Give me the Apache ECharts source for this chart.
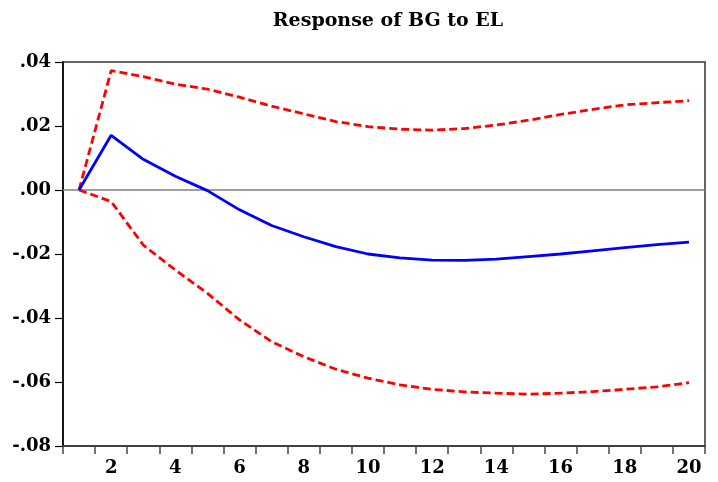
<!DOCTYPE html>
<html>
<head>
<meta charset="utf-8">
<title>Response of BG to EL</title>
<script src="https://cdn.jsdelivr.net/npm/echarts@6/dist/echarts.min.js"></script>
<style>
  html, body { margin: 0; padding: 0; background: #fff; }
  #chart { width: 718px; height: 482px; }
</style>
</head>
<body>
<div id="chart"></div>
<script>
// Impulse response horizon (periods)
const periods = ['1','2','3','4','5','6','7','8','9','10','11','12','13','14','15','16','17','18','19','20'];

// Point estimate of the response
const response = [0.0, 0.0171, 0.0096, 0.0043, -0.0002, -0.0062, -0.0111, -0.0146, -0.0177, -0.0200,
                  -0.0212, -0.0219, -0.0220, -0.0216, -0.0208, -0.0200, -0.0190, -0.0180, -0.0171, -0.0163];

// Upper and lower +/- 2 S.E. bands
const upperBand = [0.0, 0.0373, 0.0354, 0.0331, 0.0315, 0.0290, 0.0262, 0.0238, 0.0214, 0.0198,
                   0.0190, 0.0187, 0.0192, 0.0203, 0.0218, 0.0236, 0.0252, 0.0266, 0.0273, 0.0279];
const lowerBand = [0.0, -0.0036, -0.0172, -0.0250, -0.0323, -0.0406, -0.0474, -0.0521, -0.0560, -0.0588,
                   -0.0609, -0.0623, -0.0631, -0.0635, -0.0638, -0.0635, -0.0630, -0.0623, -0.0615, -0.0602];

// Y-axis range and step; labels use the ".04 / -.02" style
const yTicks = { min: -0.08, max: 0.04, step: 0.02 };
function fmtTick(v) {
  const s = Math.abs(v).toFixed(2).replace(/^0/, '');
  return (v < -1e-9 ? '-' : '') + s;
}

const FONT = '"DejaVu Serif", "Liberation Serif", serif';

const chart = echarts.init(document.getElementById('chart'), null, { renderer: 'canvas' });
chart.setOption({
  animation: false,
  backgroundColor: '#ffffff',
  title: {
    text: 'Response of BG to EL',
    left: 383,
    textAlign: 'center',
    top: 7,
    textStyle: { fontFamily: FONT, fontWeight: 'bold', fontSize: 19, color: '#000' }
  },
  grid: {
    left: 63, right: 13, top: 62, bottom: 36,
    show: true,
    borderColor: '#333',
    borderWidth: 1.5,
    backgroundColor: 'transparent'
  },
  xAxis: {
    type: 'category',
    data: periods,
    boundaryGap: true,
    axisLine: { onZero: false, lineStyle: { color: '#333', width: 1.5 } },
    axisTick: { show: true, interval: 0, length: 8, lineStyle: { color: '#444', width: 1.5 } },
    axisLabel: {
      interval: (i) => i % 2 === 1,
      margin: 13,
      fontFamily: FONT, fontWeight: 'bold', fontSize: 18, color: '#000'
    },
    splitLine: { show: false }
  },
  yAxis: {
    type: 'value',
    min: yTicks.min,
    max: yTicks.max,
    interval: yTicks.step,
    axisLine: { show: true, lineStyle: { color: '#000', width: 1.5 } },
    axisTick: { show: true, length: 8, lineStyle: { color: '#000', width: 1.2 } },
    axisLabel: {
      formatter: fmtTick,
      margin: 12,
      fontFamily: FONT, fontWeight: 'bold', fontSize: 18, color: '#000'
    },
    splitLine: { show: false }
  },
  series: [
    {
      name: 'response',
      type: 'line',
      data: response,
      symbol: 'none',
      lineStyle: { color: '#0000ff', width: 2.8 },
      z: 3,
      markLine: {
        silent: true,
        symbol: 'none',
        label: { show: false },
        lineStyle: { color: '#808080', width: 1.5, type: 'solid' },
        data: [{ yAxis: 0 }],
        z: 1
      }
    },
    {
      name: 'upper',
      type: 'line',
      data: upperBand,
      symbol: 'none',
      lineStyle: { color: '#ff0000', width: 2.8, type: [8, 4] },
      z: 2
    },
    {
      name: 'lower',
      type: 'line',
      data: lowerBand,
      symbol: 'none',
      lineStyle: { color: '#ff0000', width: 2.8, type: [8, 4] },
      z: 2
    }
  ]
});
</script>
</body>
</html>
